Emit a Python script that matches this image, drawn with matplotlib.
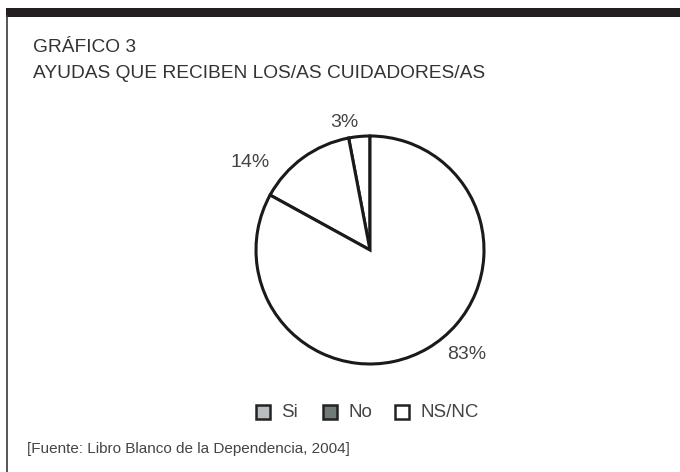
import matplotlib.pyplot as plt
from matplotlib.patches import Rectangle
from matplotlib.lines import Line2D

W, H = 680, 472

categorias = ['Si', 'No', 'NS/NC']
colores_leyenda = ['#b9bdbf', '#707a78', '#ffffff']

# sectores en el orden en que se dibujan, desde las 12 en sentido antihorario
valores = [3, 14, 83]
etiquetas = ['3%', '14%', '83%']

plt.rcParams['font.family'] = ['Liberation Sans', 'DejaVu Sans']

fig = plt.figure(figsize=(W / 100, H / 100), dpi=100)
fig.patch.set_facecolor('white')


def fx(px):
    return px / W


def fy(py):
    return 1 - py / H


# marco: barra negra superior y línea izquierda
fig.patches.append(Rectangle((fx(6), fy(17)), fx(W - 6), 9 / H,
                             transform=fig.transFigure, facecolor='#231f20',
                             edgecolor='none'))
fig.lines.append(Line2D([fx(7), fx(7)], [fy(16), 0], transform=fig.transFigure,
                        color='#3a3a3a', linewidth=1.2))

# títulos
fig.text(fx(33), fy(52), 'GRÁFICO 3', fontsize=13.8, color='#333333',
         va='baseline', ha='left')
fig.text(fx(33), fy(78), 'AYUDAS QUE RECIBEN LOS/AS CUIDADORES/AS',
         fontsize=13.8, color='#333333', va='baseline', ha='left')

# tarta
cx, cy, r = 370, 250, 114
ax = fig.add_axes([fx(cx - r), fy(cy + r), 2 * r / W, 2 * r / H])
ax.pie(valores, startangle=90, counterclock=True,
       colors=['white'] * len(valores),
       wedgeprops=dict(edgecolor='#1a1a1a', linewidth=2.2))
ax.set_xlim(-1, 1)
ax.set_ylim(-1, 1)
ax.axis('off')

pos_etiquetas = [(344, 127), (250, 167), (467, 359)]
for txt, (px, py) in zip(etiquetas, pos_etiquetas):
    fig.text(fx(px), fy(py), txt, fontsize=14, color='#444444',
             ha='center', va='baseline')

# leyenda
leyenda_x = [256, 323, 395]
for nombre, col, lx in zip(categorias, colores_leyenda, leyenda_x):
    fig.patches.append(Rectangle((fx(lx), fy(419)), 14 / W, 14 / H,
                                 transform=fig.transFigure, facecolor=col,
                                 edgecolor='#222222', linewidth=1.8))
    fig.text(fx(lx + 25), fy(417), nombre, fontsize=13.5, color='#444444',
             ha='left', va='baseline')

# fuente
fig.text(fx(27), fy(453), '[Fuente: Libro Blanco de la Dependencia, 2004]',
         fontsize=11, color='#444444', ha='left', va='baseline')

fig.savefig('out.png', dpi=100, facecolor='white')
